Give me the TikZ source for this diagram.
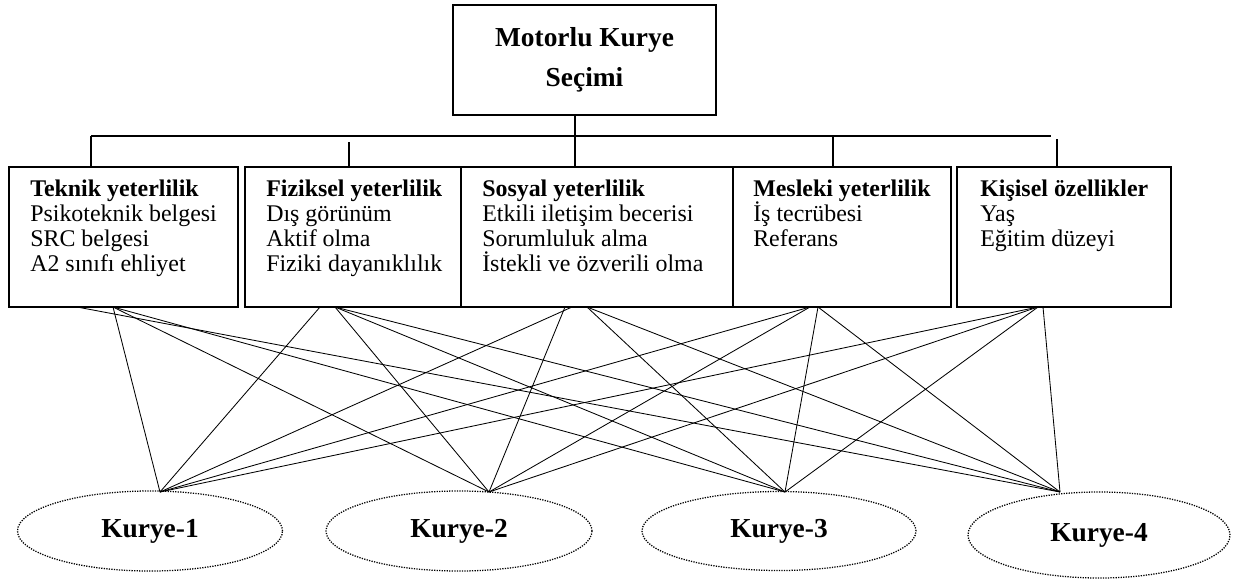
\documentclass[tikz,border=0pt]{standalone}
\usepackage{fontspec}
\setmainfont{Liberation Serif}
\usetikzlibrary{shapes.geometric}
\newcommand{\pxu}{0.025cm}

\begin{document}
\begin{tikzpicture}
[x=\pxu,y=-\pxu,
 box/.style={draw,line width=1.3pt,inner sep=0pt},
 tree/.style={line width=1.3pt},
 crittext/.style={anchor=north west,inner sep=0pt,align=left,font=\fontsize{17}{17.8}\selectfont},
 courier/.style={ellipse,draw,line width=0.9pt,dash pattern=on 0.9pt off 0.9pt,inner sep=0pt,font=\fontsize{19.5}{24}\selectfont\bfseries},
 link/.style={line width=0.6pt}]
  \useasboundingbox (0,0) rectangle (1238,581);

  % goal
  \node[box,minimum width=263*\pxu,minimum height=110*\pxu,align=center,
        font=\fontsize{19.5}{28.5}\selectfont\bfseries] (top) at (584.5,60) {Motorlu Kurye\\Seçimi};

  % criteria boxes
  \node[box,minimum width=229*\pxu,minimum height=140*\pxu] (b1) at (123.5,237) {};
  \node[box,minimum width=216*\pxu,minimum height=140*\pxu] (b2) at (353,237) {};
  \node[box,minimum width=272*\pxu,minimum height=140*\pxu] (b3) at (597,237) {};
  \node[box,minimum width=218*\pxu,minimum height=140*\pxu] (b4) at (842,237) {};
  \node[box,minimum width=214*\pxu,minimum height=140*\pxu] (b5) at (1064,237) {};

  \node[crittext] (t1) at (30,180) {\textbf{Teknik yeterlilik}\\Psikoteknik belgesi\\SRC belgesi\\A2 sınıfı ehliyet};
  \node[crittext] (t2) at (266,180) {\textbf{Fiziksel yeterlilik}\\Dış görünüm\\Aktif olma\\Fiziki dayanıklılık};
  \node[crittext] (t3) at (482,180) {\textbf{Sosyal yeterlilik}\\Etkili iletişim becerisi\\Sorumluluk alma\\İstekli ve özverili olma};
  \node[crittext] (t4) at (753,180) {\textbf{Mesleki yeterlilik}\\İş tecrübesi\\Referans};
  \node[crittext] (t5) at (980,180) {\textbf{Kişisel özellikler}\\Yaş\\Eğitim düzeyi};

  % alternatives
  \node[courier,minimum width=265*\pxu,minimum height=80*\pxu] (k1) at (150,531) {Kurye-1};
  \node[courier,minimum width=266*\pxu,minimum height=80*\pxu] (k2) at (459,531) {Kurye-2};
  \node[courier,minimum width=274*\pxu,minimum height=79*\pxu] (k3) at (779,531) {Kurye-3};
  \node[courier,minimum width=262*\pxu,minimum height=86*\pxu] (k4) at (1099,535) {Kurye-4};

  % hierarchy lines
  \coordinate (stem) at (575,136);
  \coordinate (hl) at (91,136);
  \coordinate (hr) at (1051,136);
  \coordinate (d1) at (91,136);
  \coordinate (d2) at (349,142);
  \coordinate (d4) at (833,136);
  \coordinate (d5) at (1057,139);
  \draw[tree] (top.south -| stem) -- (stem |- b3.north);
  \draw[tree] (hl) -- (hr);
  \foreach \d/\b in {d1/b1, d2/b2, d4/b4, d5/b5}
    \draw[tree] (\d) -- (\d |- \b.north);

  % link ends
  \coordinate (b1x) at (77,307);
  \coordinate (b1y) at (113,307);
  \coordinate (b2x) at (320,307);
  \coordinate (b2y) at (335,307);
  \coordinate (b3x) at (565,307);
  \coordinate (b3y) at (572,307);
  \coordinate (b3z) at (587,307);
  \coordinate (b4x) at (810,307);
  \coordinate (b4y) at (818,307);
  \coordinate (b5x) at (1038,307);
  \coordinate (b5y) at (1043,307);
  \coordinate (p1) at (160,492);
  \coordinate (p2) at (489,492);
  \coordinate (p3) at (785,492);
  \coordinate (p4) at (1060,492);

  \foreach \from/\to in {b1y/p1, b1y/p2, b1y/p3, b1x/p4}
    \draw[link] (\from) -- (\to);
  \foreach \from/\to in {b2x/p1, b2y/p2, b2y/p3, b2y/p4}
    \draw[link] (\from) -- (\to);
  \foreach \from/\to in {b3y/p1, b3x/p2, b3z/p3, b3z/p4}
    \draw[link] (\from) -- (\to);
  \foreach \from/\to in {b4x/p1, b4x/p2, b4y/p3, b4y/p4}
    \draw[link] (\from) -- (\to);
  \foreach \from/\to in {b5x/p1, b5x/p2, b5x/p3, b5y/p4}
    \draw[link] (\from) -- (\to);

\end{tikzpicture}
\end{document}
